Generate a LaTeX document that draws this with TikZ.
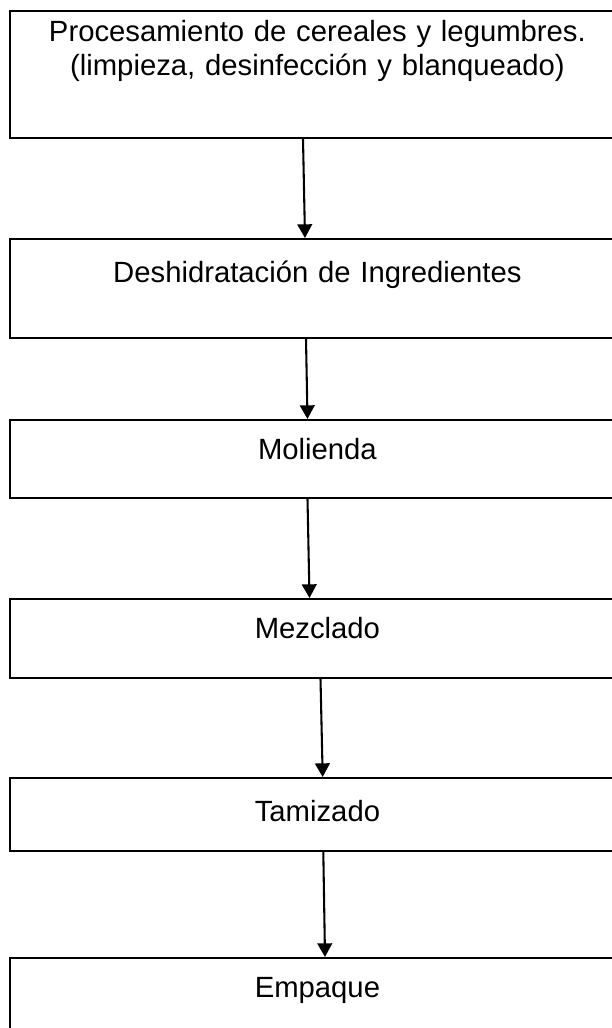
\documentclass[tikz,border=0pt]{standalone}
\usepackage{fontspec}
\setmainfont{Liberation Sans}
\usetikzlibrary{arrows.meta,calc}

\begin{document}
\begin{tikzpicture}
                [
                x=0.41pt,y=-0.41pt,
                stage/.style={draw,line width=0.75pt,anchor=north west,inner sep=0pt,
                  text width=252.15pt,align=center,text height=16.4pt,
                  font=\fontsize{12pt}{13.8pt}\selectfont},
                edge/.style={-{Triangle[length=5.6pt,width=6pt]},line width=0.85pt}
                ]
            \useasboundingbox (0,0) rectangle (611,1028);
            \node[stage,text height=12.7pt,text depth=39.4pt] (proc) at (9,10)
                {Procesamiento de cereales y legumbres.\\(limpieza, desinfección y blanqueado)};
            \node[stage,text height=18pt,text depth=22.6pt] (deshid) at (9,238) {Deshidratación de Ingredientes};
            \node[stage,text depth=15.6pt] (molienda) at (9,419) {Molienda};
            \node[stage,text depth=16pt] (mezclado) at (9,598) {Mezclado};
            \node[stage,text height=18pt,text depth=11.9pt] (tamizado) at (9,777) {Tamizado};
            \node[stage,text depth=15.6pt] (empaque) at (9,957) {Empaque};
            \draw[edge] ($(proc.south west)+(294,0)$) -- ($(deshid.north west)+(296,0)$);
            \draw[edge] ($(deshid.south west)+(297,0)$) -- ($(molienda.north west)+(298.5,0)$);
            \draw[edge] ($(molienda.south west)+(298.5,0)$) -- ($(mezclado.north west)+(300.5,0)$);
            \draw[edge] ($(mezclado.south west)+(311.5,0)$) -- ($(tamizado.north west)+(313.7,0)$);
            \draw[edge] ($(tamizado.south west)+(314.3,0)$) -- ($(empaque.north west)+(316,0)$);
            \end{tikzpicture}
\end{document}
